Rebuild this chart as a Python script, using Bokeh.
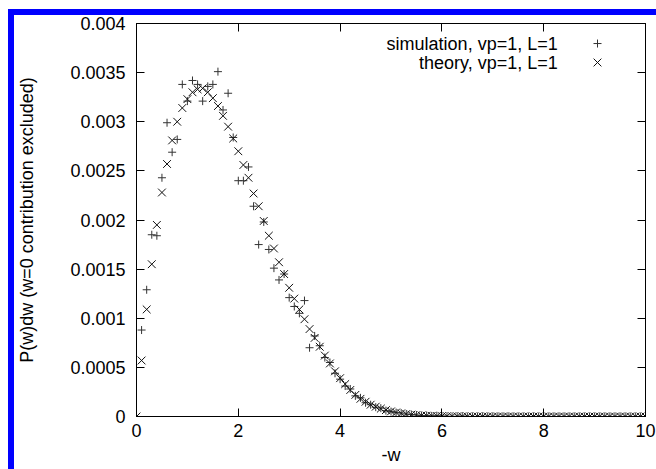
from bokeh.plotting import figure
from bokeh.models import (LinearAxis, FixedTicker, CustomJSTickFormatter, Label,
                          Range1d, Div)
from bokeh.layouts import column, row
from bokeh.embed import file_html
from bokeh.resources import INLINE

# ---- data ----
w_theory = [0.0, 0.1, 0.2, 0.3, 0.4, 0.5, 0.6, 0.7, 0.8, 0.9,
            1.0, 1.1, 1.2, 1.3, 1.4, 1.5, 1.6, 1.7, 1.8, 1.9,
            2.0, 2.1, 2.2, 2.3, 2.4, 2.5, 2.6, 2.7, 2.8, 2.9,
            3.0, 3.1, 3.2, 3.3, 3.4, 3.5, 3.6, 3.7, 3.8, 3.9,
            4.0, 4.1, 4.2, 4.3, 4.4, 4.5, 4.6, 4.7, 4.8, 4.9,
            5.0, 5.1, 5.2, 5.3, 5.4, 5.5, 5.6, 5.7, 5.8, 5.9,
            6.0, 6.1, 6.2, 6.3, 6.4, 6.5, 6.6, 6.7, 6.8, 6.9,
            7.0, 7.1, 7.2, 7.3, 7.4, 7.5, 7.6, 7.7, 7.8, 7.9,
            8.0, 8.1, 8.2, 8.3, 8.4, 8.5, 8.6, 8.7, 8.8, 8.9,
            9.0, 9.1, 9.2, 9.3, 9.4, 9.5, 9.6, 9.7, 9.8, 9.9, 10.0]
p_theory = [0.0, 0.00057, 0.00109, 0.00155, 0.00195, 0.00228, 0.00257, 0.00281, 0.00300, 0.00314,
            0.00323, 0.00330, 0.00333, 0.00334, 0.00330, 0.00324, 0.00316, 0.00306, 0.00295, 0.00283,
            0.00270, 0.00256, 0.00243, 0.00227, 0.00214, 0.00199, 0.00184, 0.00171, 0.00157, 0.00145,
            0.00131, 0.00120, 0.00109, 0.00099, 0.00089, 0.00080, 0.00071, 0.00062, 0.00054, 0.00046,
            0.00039, 0.00033, 0.00027, 0.00022, 0.00018, 0.00015, 0.00012, 0.00010, 0.000080, 0.000065,
            0.000052, 0.000041, 0.000032, 0.000025, 0.000019, 0.000015, 0.000011, 0.0000085, 0.0000065, 0.000005,
            0.0000038, 0.000003, 0.0000024, 0.0000018, 0.0000014, 0.0000011, 0.0000008, 0.0000006, 0.0000005, 0.0000004,
            0.0000003, 0.0000002, 0.0000002, 0.0000001, 0.0000001, 0.0000001, 0.0, 0.0, 0.0, 0.0,
            0.0, 0.0, 0.0, 0.0, 0.0, 0.0, 0.0, 0.0, 0.0, 0.0,
            0.0, 0.0, 0.0, 0.0, 0.0, 0.0, 0.0, 0.0, 0.0, 0.0, 0.0]

w_sim = w_theory[1:]
p_sim = [0.00088, 0.00129, 0.00185, 0.00184, 0.00243, 0.00299, 0.00269, 0.00282, 0.00338,
         0.00321, 0.00342, 0.00338, 0.00321, 0.00336, 0.00338, 0.00351, 0.00312, 0.00329, 0.00284,
         0.00240, 0.00240, 0.00254, 0.00214, 0.00175, 0.00198, 0.00170, 0.00151, 0.00139, 0.00145,
         0.00121, 0.00112, 0.00105, 0.00118, 0.00070, 0.00082, 0.00072, 0.00060, 0.00055, 0.00044,
         0.00038, 0.00031, 0.00028, 0.00021, 0.00019, 0.00014, 0.00012, 0.000095, 0.000085, 0.00006,
         0.00005, 0.00004, 0.000035, 0.000025, 0.00002, 0.000015, 0.00001, 0.00001, 0.000005, 0.000008,
         0.000004, 0.000003, 0.0, 0.000002, 0.000004, 0.0, 0.000001, 0.0, 0.000002, 0.0,
         0.000001, 0.0, 0.0, 0.000001, 0.0, 0.0, 0.0, 0.0, 0.000001, 0.0,
         0.0, 0.0, 0.0, 0.0, 0.0, 0.0, 0.0, 0.0, 0.0, 0.0,
         0.0, 0.0, 0.0, 0.0, 0.0, 0.0, 0.0, 0.0, 0.0, 0.0, 0.0]

x_ticks = [0, 2, 4, 6, 8, 10]
y_ticks = [0, 0.0005, 0.001, 0.0015, 0.002, 0.0025, 0.003, 0.0035, 0.004]
legend_labels = ["simulation, vp=1, L=1", "theory, vp=1, L=1"]

FONT = "Liberation Sans"
FS = "18px"

p = figure(width=642, height=454, output_backend="svg", toolbar_location=None,
           x_range=Range1d(0, 10), y_range=Range1d(0, 0.004),
           min_border_left=119, min_border_right=11, min_border_top=8, min_border_bottom=53,
           background_fill_color="white", border_fill_color="white")
p.margin = 0
p.grid.visible = False
p.outline_line_color = "black"
p.outline_line_width = 1

for ax in (p.xaxis[0], p.yaxis[0]):
    ax.major_tick_in = 8
    ax.major_tick_out = 0
    ax.minor_tick_in = 0
    ax.minor_tick_out = 0
    ax.axis_line_color = "black"
    ax.major_tick_line_color = "black"
    ax.major_label_text_font = FONT
    ax.major_label_text_font_size = FS
    ax.major_label_text_color = "black"
    ax.axis_label_text_font = FONT
    ax.axis_label_text_font_size = FS
    ax.axis_label_text_font_style = "normal"
    ax.axis_label_text_color = "black"

p.xaxis.ticker = FixedTicker(ticks=x_ticks)
p.yaxis.ticker = FixedTicker(ticks=y_ticks)
p.yaxis.formatter = CustomJSTickFormatter(code="return String(tick);")
p.xaxis.formatter = CustomJSTickFormatter(code="return String(tick);")
p.xaxis.major_label_standoff = 7
p.yaxis.major_label_standoff = 11
p.xaxis.axis_label = "-w"
p.yaxis.axis_label = "P(w)dw (w=0 contribution excluded)"
p.xaxis.axis_label_standoff = 5
p.yaxis.axis_label_standoff = 30

# mirrored inner ticks on top and right
top_ax = LinearAxis(ticker=FixedTicker(ticks=x_ticks),
                    formatter=CustomJSTickFormatter(code="return '';"))
right_ax = LinearAxis(ticker=FixedTicker(ticks=y_ticks),
                      formatter=CustomJSTickFormatter(code="return '';"))
for ax in (top_ax, right_ax):
    ax.major_tick_in = 8
    ax.major_tick_out = 0
    ax.minor_tick_in = 0
    ax.minor_tick_out = 0
    ax.major_label_standoff = 0
    ax.major_label_text_font_size = "0px"
    ax.axis_line_color = "black"
    ax.major_tick_line_color = "black"
p.add_layout(top_ax, "above")
p.add_layout(right_ax, "right")

# data
p.scatter(w_sim, p_sim, marker="cross", size=8, line_color="#333333", line_width=1)
p.scatter(w_theory, p_theory, marker="x", size=11, line_color="#111111", line_width=1)

# legend (text right-aligned, symbol to the right)
p.add_layout(Label(x=8.275, y=0.003796, text=legend_labels[0], text_align="right",
                   text_baseline="middle", text_font=FONT, text_font_size=FS, text_color="black"))
p.add_layout(Label(x=8.275, y=0.003603, text=legend_labels[1], text_align="right",
                   text_baseline="middle", text_font=FONT, text_font_size=FS, text_color="black"))
p.scatter([9.057], [0.003796], marker="cross", size=8, line_color="#333333", line_width=1)
p.scatter([9.057], [0.003603], marker="x", size=11, line_color="#111111", line_width=1)

# blue frame of the screenshot (page layout around the figure)
blue = {"background-color": "blue"}
def box(w, h, styles=None):
    return Div(width=w, height=h, margin=0, styles=styles or {})

layout = column(
    box(656, 9),
    row(box(8, 6), box(648, 6, blue), margin=0, spacing=0),
    row(box(8, 454), box(6, 454, blue), p, margin=0, spacing=0),
    margin=0, spacing=0,
)

open("out.html", "w").write(file_html(layout, INLINE))
